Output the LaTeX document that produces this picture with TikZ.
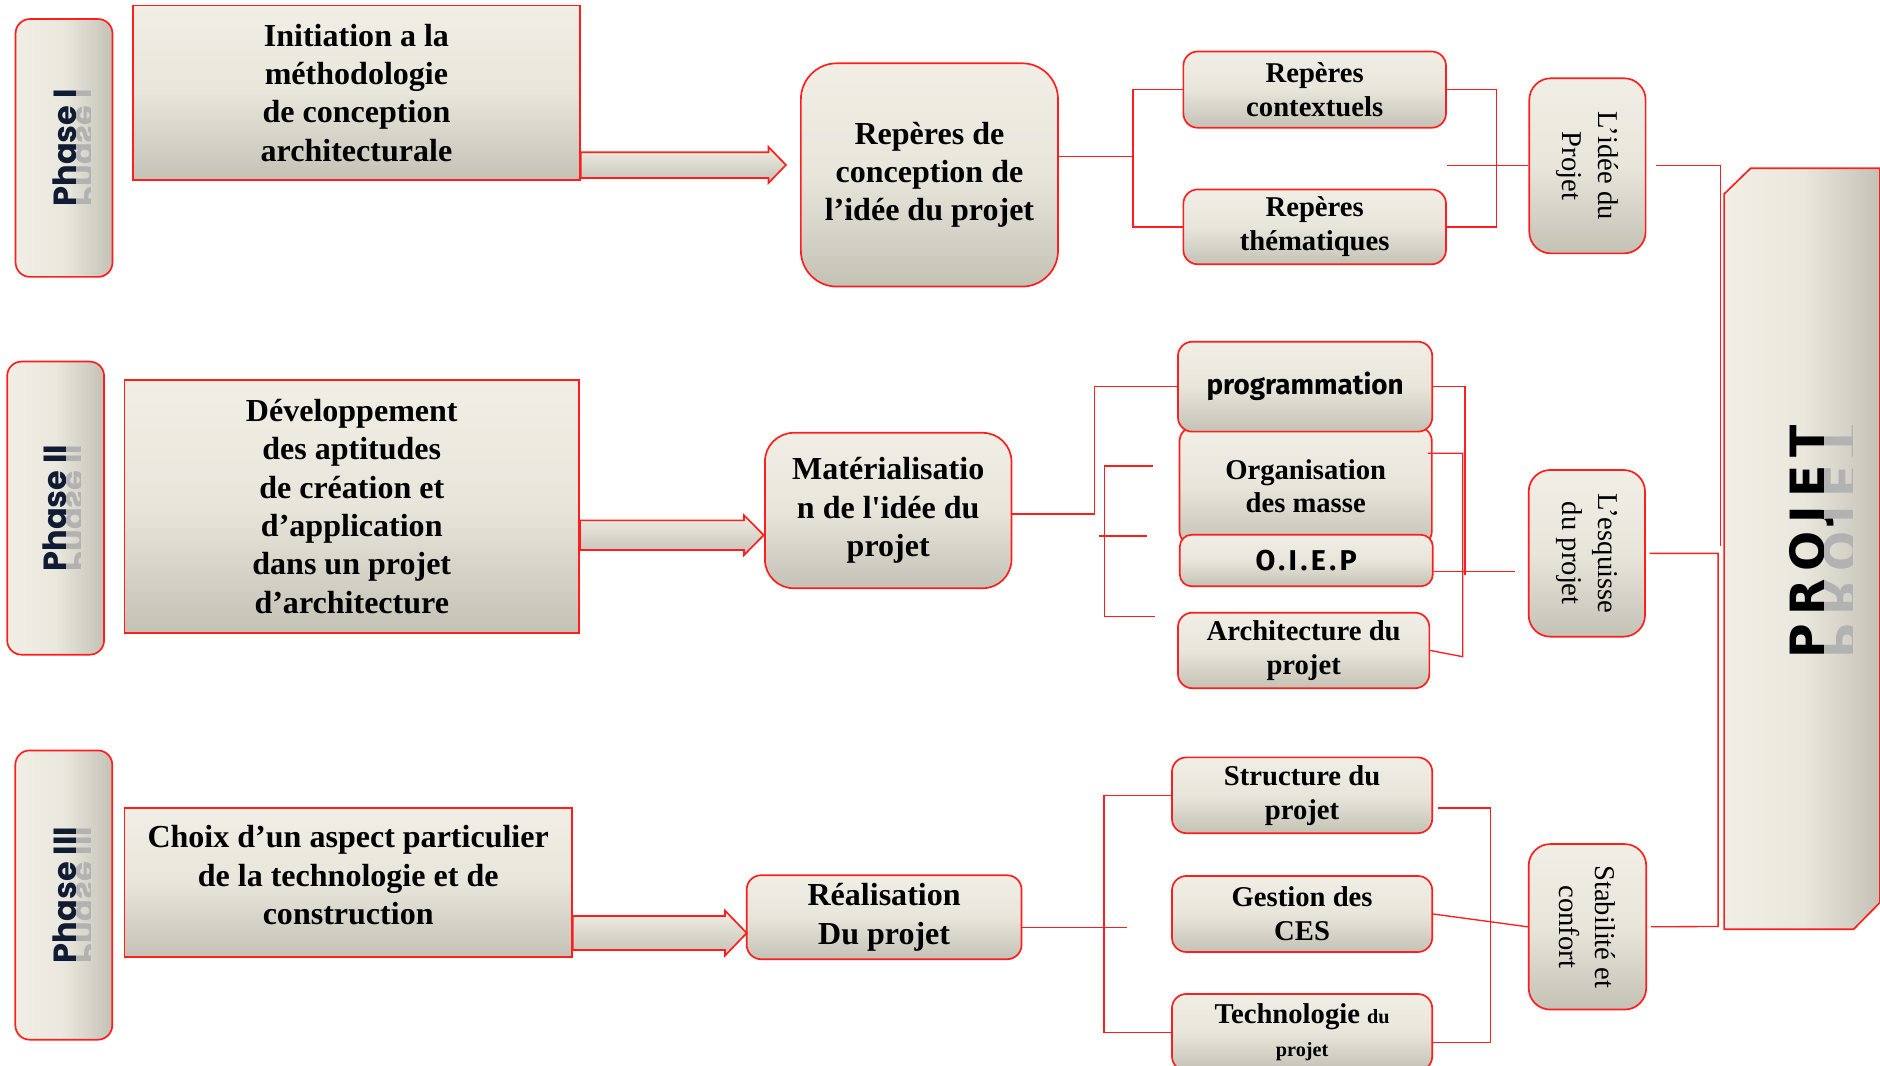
\documentclass[tikz,border=0pt]{standalone}
\usepackage{fontspec}
\setmainfont{Liberation Serif}
\newfontfamily\phasefont{Poppins}
\newfontfamily\comicfont{Fira Sans}
\newfontfamily\projfont{DejaVu Sans}[LetterSpace=17]
\newfontfamily\brutfont{Liberation Serif}[Ligatures=ResetAll]
\usetikzlibrary{positioning,calc}

\definecolor{creme}{HTML}{F1EFE5}
\definecolor{grege}{HTML}{C4C1B5}
\definecolor{rouge}{HTML}{FF1E1E}
\definecolor{encre}{HTML}{101C34}

\newcommand{\grandtxt}{\fontsize{19}{22.7}\selectfont\bfseries}
\newcommand{\moyentxt}{\fontsize{17}{20}\selectfont\bfseries}
\newcommand{\verttxt}{\fontsize{17}{21}\selectfont}
\newcommand{\petittxt}{\fontsize{12}{14}\selectfont}
\newcommand{\apos}{{\brutfont\bfseries '}}

\tikzset{
  cadre/.style={rectangle, draw=rouge, line width=1pt, top color=creme, bottom color=grege,
                middle color=creme!80!grege, align=center, inner sep=2pt},
  etape/.style={cadre, font=\grandtxt},
  rbloc/.style={cadre, rounded corners=0.3cm, font=\moyentxt},
  vbloc/.style={cadre, rounded corners=0.45cm, rotate=-90, font=\verttxt},
  phase/.style={draw=rouge, line width=1pt, rounded corners=0.3cm, minimum width=2.02cm,
                left color=creme, right color=grege, middle color=creme!85!grege},
  phasetxt/.style={font=\phasefont\fontsize{19}{19}\selectfont\bfseries, text=encre,
                   rotate=90, anchor=base, inner sep=0pt},
  projtxt/.style={font=\projfont\fontsize{28}{28}\selectfont\bfseries, text=black,
                  rotate=90, anchor=base, inner sep=0pt},
  reflet/.style={yscale=-1, text=black!30},
  comic/.style={font=\comicfont\fontsize{16.5}{18}\selectfont\bfseries},
  cadreprojet/.style={draw=rouge, line width=1pt, left color=creme, right color=grege,
                      middle color=creme!85!grege},
  fleche/.style={draw=rouge, line width=1pt, top color=creme, bottom color=grege},
  link/.style={draw=rouge, line width=0.8pt}
}

\begin{document}
\begin{tikzpicture}[x=0.025cm, y=-0.025cm]
\useasboundingbox (0,0) rectangle (1568,889);

% phase I
\node[phase, minimum height=5.375cm] (ph1) at (53.4,123.4) {};
\node[phasetxt] (ph1t) at ([xshift=0.25cm]ph1.center) {Phase I};
\begin{scope}
  \clip ([xshift=0.25cm]ph1.north) rectangle ([xshift=0.55cm]ph1.south);
  \node[phasetxt, reflet] at ([xshift=0.25cm]ph1.center) {Phase I};
\end{scope}
\node[etape, minimum width=9.315cm, minimum height=3.64cm] (init) at (297.3,77.5)
  {Initiation a la\\méthodologie\\de conception\\architecturale};
\node[etape, rounded corners=0.75cm, minimum width=5.36cm, minimum height=4.655cm] (rconc)
  at (775.2,145.9) {Repères de\\conception de\\l’idée du projet};
\node[rbloc, minimum width=5.475cm, minimum height=1.59cm] (ctx) at (1096.5,74.75) {Repères\\contextuels};
\node[rbloc, minimum width=5.475cm, minimum height=1.56cm] (them) at (1096.5,189.2) {Repères\\thématiques};
% rotated: .south is the left side, .north the right side
\node[vbloc, minimum width=3.65cm, minimum height=2.425cm] (idee) at (1324,138.3) {L’idée du\\Projet};

% phase II
\node[phase, minimum height=6.11cm] (ph2) at (46.4,423.8) {};
\node[phasetxt] (ph2t) at ([xshift=0.22cm]ph2.center) {Phase II};
\begin{scope}
  \clip ([xshift=0.22cm]ph2.north) rectangle ([xshift=0.52cm]ph2.south);
  \node[phasetxt, reflet] at ([xshift=0.22cm]ph2.center) {Phase II};
\end{scope}
\node[etape, minimum width=9.48cm, minimum height=5.27cm] (dev) at (293.4,422.4)
  {Développement\\des aptitudes\\de création et\\d’application\\dans un projet\\d’architecture};
\node[etape, rounded corners=0.6cm, minimum width=5.14cm, minimum height=3.24cm] (mat)
  at (740.8,425.8) {Matérialisatio\\n de l\apos idée du\\projet};
\node[rbloc, minimum width=5.26cm, minimum height=2.475cm] (orga) at (1089,405.5) {Organisation\\des masse};
\node[rbloc, comic, minimum width=5.3cm, minimum height=1.875cm] (prog) at (1088.5,322.5) {programmation};
\node[rbloc, comic, rounded corners=0.25cm, minimum width=5.275cm, minimum height=1.075cm] (oiep)
  at (1089.5,467.5) {\addfontfeature{LetterSpace=12}\fontsize{17}{18}\selectfont O.I.E.P};
\node[rbloc, minimum width=5.24cm, minimum height=1.575cm] (archi) at (1087.3,542.5) {Architecture du\\projet};
\node[vbloc, minimum width=3.475cm, minimum height=2.425cm] (esq) at (1323.5,461.5) {L’esquisse\\du projet};

% phase III
\node[phase, minimum height=6.03cm] (ph3) at (53.2,746.5) {};
\node[phasetxt] (ph3t) at ([xshift=0.26cm]ph3.center) {Phase III};
\begin{scope}
  \clip ([xshift=0.26cm]ph3.north) rectangle ([xshift=0.56cm]ph3.south);
  \node[phasetxt, reflet] at ([xshift=0.26cm]ph3.center) {Phase III};
\end{scope}
\node[etape, minimum width=9.33cm, minimum height=3.1cm] (choix) at (290.4,736)
  {Choix d’un aspect particulier\\de la technologie et de\\construction\\[-14pt]};
\node[etape, rounded corners=0.3cm, minimum width=5.73cm, minimum height=1.75cm] (real)
  at (737.4,765) {Réalisation\\Du projet};
\node[rbloc, minimum width=5.425cm, minimum height=1.58cm] (struct) at (1086,663.3) {Structure du\\projet};
\node[rbloc, minimum width=5.425cm, minimum height=1.585cm] (gest) at (1086,762.3) {Gestion des\\CES};
\node[rbloc, minimum width=5.425cm, minimum height=1.6cm] (techno) at (1086,861)
  {Technologie {\petittxt du}\\{\petittxt projet}};
\node[vbloc, minimum width=3.45cm, minimum height=2.45cm] (stab) at (1324,773) {Stabilité et\\confort};

% projet
\draw[cadreprojet] (1438,161.8) -- (1460,140.4) -- (1568,140.4) -- (1568,752.7)
  -- (1546,775) -- (1438,775) -- cycle;
\node[projtxt] (projet) at (1522,452) {PROJET};
\begin{scope}
  \clip (1522,140) rectangle (1545,775);
  \node[projtxt, reflet] at (1522,452) {PROJET};
\end{scope}

% big arrows
\draw[fleche] (init.east |- 0,127) -- (641,127) -- (641,122.6) -- (655.5,137.6)
  -- (641,152.6) -- (641,148.5) -- (init.east |- 0,148.5) -- cycle;
\draw[fleche] (dev.east |- 0,434) -- (620.5,434) -- (620.5,429.7) -- (637,446.3)
  -- (620.5,463) -- (620.5,458.7) -- (dev.east |- 0,458.7) -- cycle;
\draw[fleche] (choix.east |- 0,764) -- (604.7,764) -- (604.7,759.5) -- (622.8,778.2)
  -- (604.7,797) -- (604.7,792.4) -- (choix.east |- 0,792.4) -- cycle;

% connectors phase I
\draw[link] (rconc.east |- 0,130.7) -- (945,130.7);
\draw[link] (ctx.west) -- (945,0 |- ctx.west) -- (945,0 |- them.west) -- (them.west);
\draw[link] (ctx.east) -- (1248,0 |- ctx.east) -- (1248,0 |- them.east) -- (them.east);
\draw[link] (ctx.east |- idee.south) -- (idee.south);
\draw[link] ([xshift=0.2cm]idee.north) -| (1435,455);

% connectors phase II
\draw[link] (mat.east |- 0,428.7) -| (912.7,0 |- prog.west) -- (prog.west);
\draw[link] (961.6,388.7) -- (921,388.7) -- (921,514) -- (963.7,514);
\draw[link] (916.6,447) -- (957,447);
\draw[link] (prog.east) -- (1222,0 |- prog.east) -- (1222,479.6);
\draw[link] (1191,378) -- (1220,378) -- (1220,547.7) -- (archi.east);
\draw[link] (oiep.east |- 0,476.8) -- (1263.7,476.8);
\draw[link] ([xshift=0.08cm]esq.north) -| (1433,772.7) -- ([xshift=0.08cm]stab.north);

% connectors phase III
\draw[link] (real.east |- 0,773.7) -- (940,773.7);
\draw[link] (struct.west) -- (920.7,0 |- struct.west) -- (920.7,0 |- techno.west) -- (techno.west);
\draw[link] ([xshift=0.1cm]struct.east |- 0,674) -- (1243,674) -- (1243,869.6) -- (techno.east |- 0,869.6);
\draw[link] (gest.east) -- (stab.south);
\end{tikzpicture}
\end{document}
